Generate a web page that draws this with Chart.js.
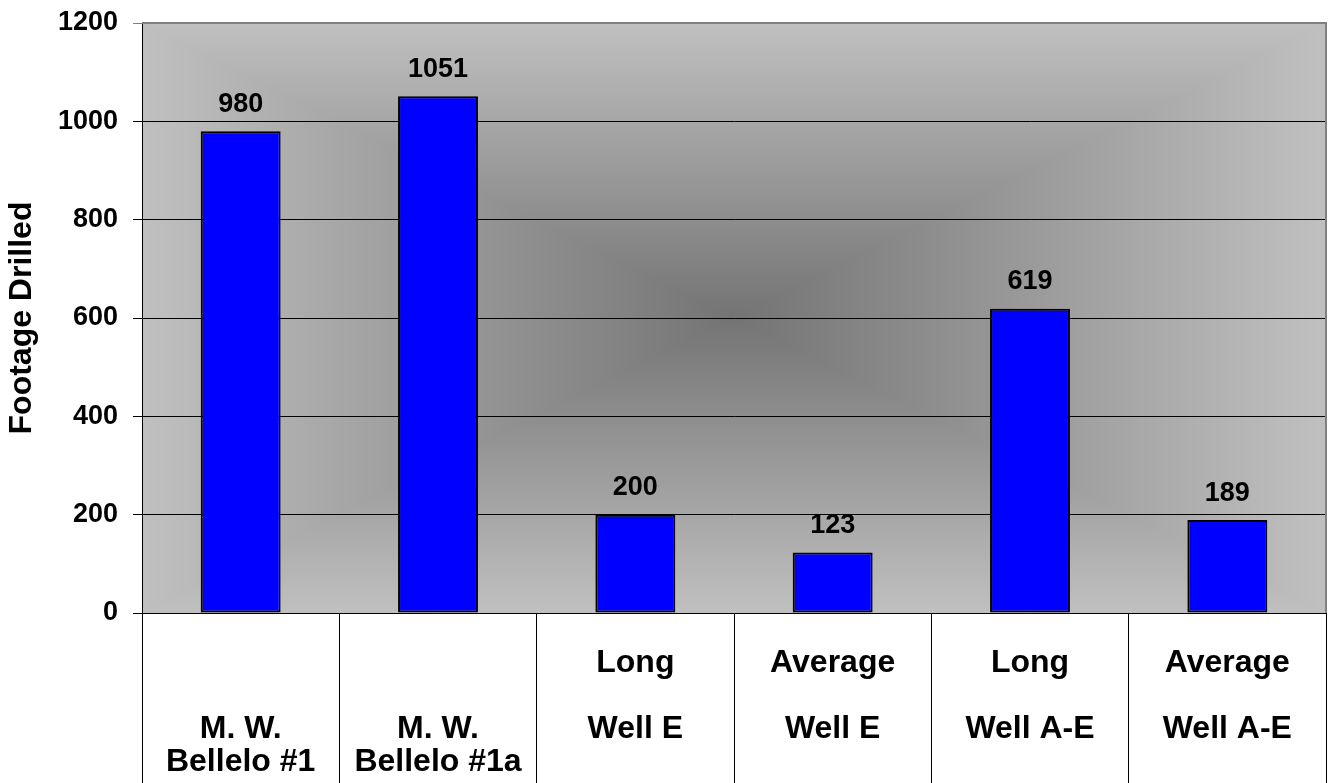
<!DOCTYPE html>
<html>
<head>
<meta charset="utf-8">
<script src="https://cdn.jsdelivr.net/npm/chart.js"></script>
<style>
  body { margin: 0; background: #fff; }
  #wrap { width: 1328px; height: 783px; }
</style>
</head>
<body>
<div id="wrap"><canvas id="chart"></canvas></div>
<script>
const categories = [
    ['M. W.', 'Bellelo #1'],
    ['M. W.', 'Bellelo #1a'],
    ['Long', 'Well E'],
    ['Average', 'Well E'],
    ['Long', 'Well A-E'],
    ['Average', 'Well A-E']
]
const footage = [980, 1051, 200, 123, 619, 189]
const yTicks = [0, 200, 400, 600, 800, 1000, 1200]
const yTitle = 'Footage Drilled'

const FONT = "'Liberation Sans', Arial, sans-serif"

// excel style "from center" gradient: vertical fill, then left/right triangles on top
const plotBackground = {
    id: 'plotBackground',
    beforeDraw(chart) {
        const {ctx, chartArea: a} = chart
        const cx = (a.left + a.right) / 2, cy = (a.top + a.bottom) / 2
        const edge = '#c0c0c0', mid = '#747474'
        ctx.save()
        let grad = ctx.createLinearGradient(0, a.top, 0, a.bottom)
        grad.addColorStop(0, edge)
        grad.addColorStop(0.5, mid)
        grad.addColorStop(1, edge)
        ctx.fillStyle = grad
        ctx.fillRect(a.left, a.top, a.right - a.left, a.bottom - a.top)
        grad = ctx.createLinearGradient(a.left, 0, a.right, 0)
        grad.addColorStop(0, edge)
        grad.addColorStop(0.5, mid)
        grad.addColorStop(1, edge)
        ctx.fillStyle = grad
        ;[a.left, a.right].forEach(x => {
            ctx.beginPath()
            ctx.moveTo(x, a.top)
            ctx.lineTo(x, a.bottom)
            ctx.lineTo(cx, cy)
            ctx.closePath()
            ctx.fill()
        })
        ctx.restore()
    },
    afterDraw(chart) {
        const {ctx, chartArea: a} = chart
        ctx.save()
        ctx.strokeStyle = '#808080'
        ctx.lineWidth = 2
        ctx.beginPath()
        ctx.moveTo(a.left, a.top)
        ctx.lineTo(a.right, a.top)
        ctx.lineTo(a.right, a.bottom)
        ctx.stroke()
        ctx.restore()
    }
}

const valueLabels = {
    id: 'valueLabels',
    afterDatasetsDraw(chart) {
        const {ctx} = chart
        const meta = chart.getDatasetMeta(0)
        ctx.save()
        ctx.fillStyle = '#000'
        ctx.font = `bold 27px ${FONT}`
        ctx.textAlign = 'center'
        ctx.textBaseline = 'middle'
        meta.data.forEach((bar, i) => {
            ctx.fillText(String(footage[i]), bar.x, bar.y - 27)
        })
        ctx.restore()
    }
}

new Chart(document.getElementById('chart'), {
    type: 'bar',
    data: {
        labels: categories,
        datasets: [{
            data: footage,
            backgroundColor: '#0000ff',
            borderColor: '#000000',
            borderWidth: 2,
            borderSkipped: false,
            barPercentage: 0.405,
            categoryPercentage: 1
        }]
    },
    options: {
        animation: false,
        responsive: true,
        maintainAspectRatio: false,
        layout: {padding: {top: 23, right: 2, bottom: 0, left: 0}},
        plugins: {
            legend: {display: false},
            tooltip: {enabled: false}
        },
        scales: {
            x: {
                offset: true,
                afterFit: scale => { scale.height = 170 },
                border: {display: true, color: '#000', width: 1},
                grid: {
                    offset: true,
                    drawOnChartArea: false,
                    drawTicks: true,
                    tickLength: 170,
                    color: '#000',
                    lineWidth: 1
                },
                ticks: {
                    color: '#000',
                    padding: -136.5,
                    maxRotation: 0,
                    autoSkip: false,
                    font: {family: FONT, size: 32, weight: 'bold', lineHeight: '33px'},
                    callback: (v, i) => {
                        const l = categories[i]
                        return l[0].startsWith('M.') ? ['', '', l[0], l[1]] : [l[0], '', l[1]]
                    }
                }
            },
            y: {
                min: 0,
                max: 1200,
                afterFit: scale => {
                    scale.width = 142
                    scale.paddingTop = 0
                    scale.paddingBottom = 0
                },
                afterBuildTicks: scale => { scale.ticks = yTicks.map(v => ({value: v})) },
                border: {display: true, color: '#000', width: 1},
                grid: {
                    color: ctx => ctx.tick && ctx.tick.value === 1200 ? '#808080' : '#000',
                    lineWidth: 1,
                    drawTicks: true,
                    tickLength: 9
                },
                ticks: {
                    color: '#000',
                    padding: 15,
                    font: {family: FONT, size: 27, weight: 'bold'},
                    callback: v => String(v)
                },
                title: {
                    display: true,
                    text: yTitle,
                    color: '#000',
                    padding: {top: 3, bottom: 0},
                    font: {family: FONT, size: 32, weight: 'bold'}
                }
            }
        }
    },
    plugins: [plotBackground, valueLabels]
})
</script>
</body>
</html>
